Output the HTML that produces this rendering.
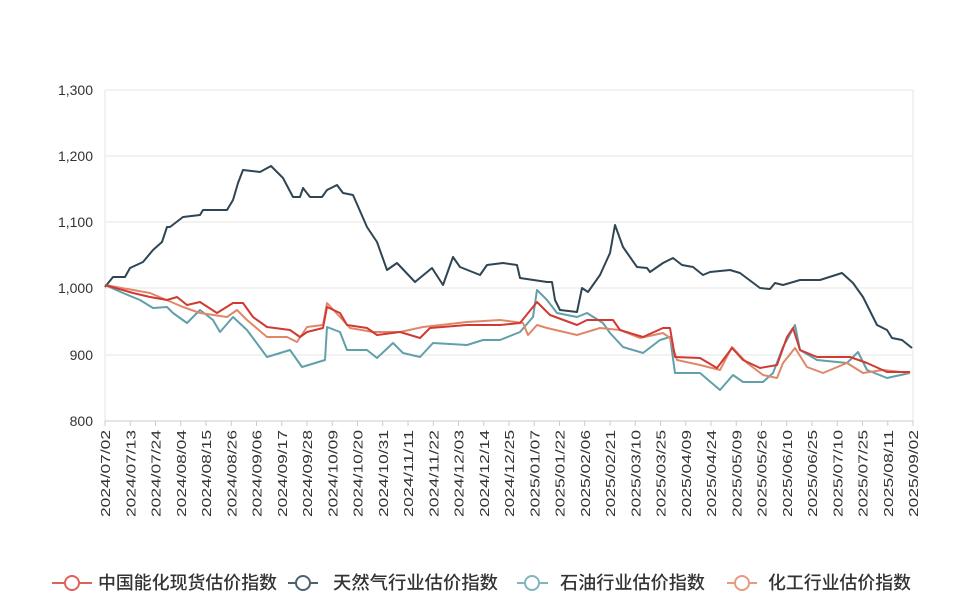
<!DOCTYPE html>
<html><head><meta charset="utf-8"><style>
body{margin:0;background:#fff;}
svg text{font-family:"Liberation Sans","Noto Sans CJK SC",sans-serif;}
</style></head><body>
<svg width="960" height="600" xmlns="http://www.w3.org/2000/svg">
<g stroke="#e6e6e6" stroke-width="1">
<line x1="105" y1="90" x2="913" y2="90"/>
<line x1="105" y1="156" x2="913" y2="156"/>
<line x1="105" y1="222" x2="913" y2="222"/>
<line x1="105" y1="288" x2="913" y2="288"/>
<line x1="105" y1="355" x2="913" y2="355"/>
<line x1="105" y1="90" x2="105" y2="421"/>
<line x1="913" y1="90" x2="913" y2="421"/>
</g>
<line x1="105" y1="421" x2="913" y2="421" stroke="#ccc" stroke-width="1"/>
<g stroke="#ccc" stroke-width="1">
<path d="M105 421v5M130.25 421v5M155.5 421v5M180.75 421v5M206 421v5M231.25 421v5M256.5 421v5M281.75 421v5M307 421v5M332.25 421v5M357.5 421v5M382.75 421v5M408 421v5M433.25 421v5M458.5 421v5M483.75 421v5M509 421v5M534.25 421v5M559.5 421v5M584.75 421v5M610 421v5M635.25 421v5M660.5 421v5M685.75 421v5M711 421v5M736.25 421v5M761.5 421v5M786.75 421v5M812 421v5M837.25 421v5M862.5 421v5M887.75 421v5M913 421v5"/>
</g>
<g font-size="14" fill="#333" text-anchor="end">
<text x="93" y="95">1,300</text>
<text x="93" y="161">1,200</text>
<text x="93" y="227">1,100</text>
<text x="93" y="293">1,000</text>
<text x="93" y="360">900</text>
<text x="93" y="426">800</text>
</g>
<g font-size="13" fill="#333" text-anchor="end">
<text transform="translate(110,430) rotate(-90)" textLength="87" lengthAdjust="spacingAndGlyphs">2024/07/02</text>
<text transform="translate(135.25,430) rotate(-90)" textLength="87" lengthAdjust="spacingAndGlyphs">2024/07/13</text>
<text transform="translate(160.5,430) rotate(-90)" textLength="87" lengthAdjust="spacingAndGlyphs">2024/07/24</text>
<text transform="translate(185.75,430) rotate(-90)" textLength="87" lengthAdjust="spacingAndGlyphs">2024/08/04</text>
<text transform="translate(211,430) rotate(-90)" textLength="87" lengthAdjust="spacingAndGlyphs">2024/08/15</text>
<text transform="translate(236.25,430) rotate(-90)" textLength="87" lengthAdjust="spacingAndGlyphs">2024/08/26</text>
<text transform="translate(261.5,430) rotate(-90)" textLength="87" lengthAdjust="spacingAndGlyphs">2024/09/06</text>
<text transform="translate(286.75,430) rotate(-90)" textLength="87" lengthAdjust="spacingAndGlyphs">2024/09/17</text>
<text transform="translate(312,430) rotate(-90)" textLength="87" lengthAdjust="spacingAndGlyphs">2024/09/28</text>
<text transform="translate(337.25,430) rotate(-90)" textLength="87" lengthAdjust="spacingAndGlyphs">2024/10/09</text>
<text transform="translate(362.5,430) rotate(-90)" textLength="87" lengthAdjust="spacingAndGlyphs">2024/10/20</text>
<text transform="translate(387.75,430) rotate(-90)" textLength="87" lengthAdjust="spacingAndGlyphs">2024/10/31</text>
<text transform="translate(413,430) rotate(-90)" textLength="87" lengthAdjust="spacingAndGlyphs">2024/11/11</text>
<text transform="translate(438.25,430) rotate(-90)" textLength="87" lengthAdjust="spacingAndGlyphs">2024/11/22</text>
<text transform="translate(463.5,430) rotate(-90)" textLength="87" lengthAdjust="spacingAndGlyphs">2024/12/03</text>
<text transform="translate(488.75,430) rotate(-90)" textLength="87" lengthAdjust="spacingAndGlyphs">2024/12/14</text>
<text transform="translate(514,430) rotate(-90)" textLength="87" lengthAdjust="spacingAndGlyphs">2024/12/25</text>
<text transform="translate(539.25,430) rotate(-90)" textLength="87" lengthAdjust="spacingAndGlyphs">2025/01/07</text>
<text transform="translate(564.5,430) rotate(-90)" textLength="87" lengthAdjust="spacingAndGlyphs">2025/01/22</text>
<text transform="translate(589.75,430) rotate(-90)" textLength="87" lengthAdjust="spacingAndGlyphs">2025/02/06</text>
<text transform="translate(615,430) rotate(-90)" textLength="87" lengthAdjust="spacingAndGlyphs">2025/02/21</text>
<text transform="translate(640.25,430) rotate(-90)" textLength="87" lengthAdjust="spacingAndGlyphs">2025/03/10</text>
<text transform="translate(665.5,430) rotate(-90)" textLength="87" lengthAdjust="spacingAndGlyphs">2025/03/25</text>
<text transform="translate(690.75,430) rotate(-90)" textLength="87" lengthAdjust="spacingAndGlyphs">2025/04/09</text>
<text transform="translate(716,430) rotate(-90)" textLength="87" lengthAdjust="spacingAndGlyphs">2025/04/24</text>
<text transform="translate(741.25,430) rotate(-90)" textLength="87" lengthAdjust="spacingAndGlyphs">2025/05/09</text>
<text transform="translate(766.5,430) rotate(-90)" textLength="87" lengthAdjust="spacingAndGlyphs">2025/05/26</text>
<text transform="translate(791.75,430) rotate(-90)" textLength="87" lengthAdjust="spacingAndGlyphs">2025/06/10</text>
<text transform="translate(817,430) rotate(-90)" textLength="87" lengthAdjust="spacingAndGlyphs">2025/06/25</text>
<text transform="translate(842.25,430) rotate(-90)" textLength="87" lengthAdjust="spacingAndGlyphs">2025/07/10</text>
<text transform="translate(867.5,430) rotate(-90)" textLength="87" lengthAdjust="spacingAndGlyphs">2025/07/25</text>
<text transform="translate(892.75,430) rotate(-90)" textLength="87" lengthAdjust="spacingAndGlyphs">2025/08/11</text>
<text transform="translate(918,430) rotate(-90)" textLength="87" lengthAdjust="spacingAndGlyphs">2025/09/02</text>
</g>
<g fill="none" stroke-width="2" stroke-linejoin="round">
<polyline stroke="#2f4554" points="105,287 113,277 125,277 130,268 143,262 153,250 162,242 167,227 170,227 183,217 200,215 203,210 227,210 233,200 238,183 243,170 260,172 271,166 283,178 293,197 300,197 303,188 310,197 322,197 327,190 337,185 343,193 353,195 367,227 377,242 387,270 397,263 415,282 432,268 443,285 453,257 460,267 480,275 487,265 503,263 517,265 520,278 547,282 552,282 555,300 560,310 577,312 582,288 588,292 600,275 610,253 615,225 623,247 637,267 647,268 650,272 663,263 673,258 682,265 693,267 703,275 710,272 730,270 740,273 760,288 770,289 775,283 783,285 800,280 820,280 842,273 853,283 863,297 877,325 887,330 892,338 902,340 912,348"/>
<polyline stroke="#61a0a8" points="105,285 123,293 140,300 153,308 167,307 173,313 187,323 200,310 213,320 220,332 233,317 247,330 267,357 290,350 302,367 325,360 327,327 340,332 347,350 367,350 377,358 393,343 403,353 420,357 433,343 467,345 483,340 500,340 520,332 533,317 537,290 547,300 557,313 577,317 587,313 603,323 610,333 623,347 643,353 660,340 670,337 675,373 700,373 720,390 733,375 743,382 763,382 773,373 783,347 795,325 800,350 817,360 847,363 858,352 867,370 887,378 910,373"/>
<polyline stroke="#e0876a" points="105,285 150,293 183,307 200,313 227,317 237,310 247,320 267,337 287,337 297,342 307,327 323,325 327,303 340,317 350,328 373,332 400,332 423,327 467,322 500,320 523,323 528,335 537,325 547,328 577,335 600,328 620,330 640,338 663,333 670,338 677,360 700,365 720,370 732,347 747,363 763,375 777,378 783,363 795,348 807,367 823,373 847,363 863,373 883,370 910,373"/>
<polyline stroke="#d03a32" points="105,285 133,293 150,297 167,300 177,297 187,305 200,302 217,313 233,303 243,303 253,317 267,327 290,330 300,337 307,332 323,328 327,307 340,313 347,325 367,328 377,335 400,332 420,338 430,328 467,325 500,325 520,323 537,302 550,315 577,325 587,320 613,320 620,330 643,337 663,328 670,328 675,357 700,358 717,368 732,348 743,360 760,368 777,365 787,337 793,328 800,350 817,357 850,357 867,363 887,372 910,372"/>
</g>
<g font-size="18" font-weight="500" fill="#333">
<line x1="52" y1="583" x2="92" y2="583" stroke="#e0605a" stroke-width="2"/><circle cx="72" cy="583" r="7" fill="#fff" stroke="#e0605a" stroke-width="2"/>
<text x="98" y="589" textLength="179" lengthAdjust="spacingAndGlyphs">中国能化现货估价指数</text>
<line x1="288" y1="583" x2="318" y2="583" stroke="#4a6272" stroke-width="2"/><circle cx="303" cy="583" r="7" fill="#fff" stroke="#4a6272" stroke-width="2"/>
<text x="333" y="589" textLength="165" lengthAdjust="spacingAndGlyphs">天然气行业估价指数</text>
<line x1="517" y1="583" x2="548" y2="583" stroke="#7fb5bc" stroke-width="2"/><circle cx="532" cy="583" r="7" fill="#fff" stroke="#7fb5bc" stroke-width="2"/>
<text x="560" y="589" textLength="145" lengthAdjust="spacingAndGlyphs">石油行业估价指数</text>
<line x1="727" y1="583" x2="757" y2="583" stroke="#e89a80" stroke-width="2"/><circle cx="742" cy="583" r="7" fill="#fff" stroke="#e89a80" stroke-width="2"/>
<text x="768" y="589" textLength="143" lengthAdjust="spacingAndGlyphs">化工行业估价指数</text>
</g>
</svg>
</body></html>
